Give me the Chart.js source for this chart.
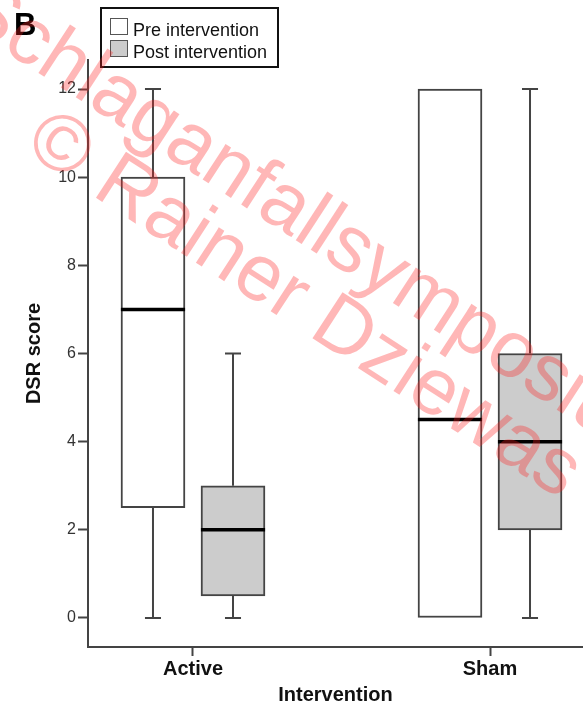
<!DOCTYPE html>
<html>
<head>
<meta charset="utf-8">
<script src="https://cdn.jsdelivr.net/npm/chart.js@4.4.1/dist/chart.umd.min.js"></script>
<style>
  html, body { margin: 0; padding: 0; background: #fff; }
  #wrap { position: relative; width: 583px; height: 704px; overflow: hidden; font-family: "Liberation Sans", Arial, sans-serif; }
  #c { position: absolute; left: 0; top: 0; }
  #panel { position: absolute; left: 14px; top: 9px; font-weight: bold; font-size: 31px; line-height: 1; color: #000; }
  #legend { position: absolute; left: 100px; top: 7px; width: 175px; height: 57px; border: 2px solid #111; background: #fff; }
  .sw { position: absolute; left: 8px; width: 16px; height: 15px; border: 1.5px solid #555; }
  .lt { position: absolute; left: 31px; font-size: 18px; line-height: 1; color: #111; white-space: nowrap; }
  .wm { position: absolute; width: 0; height: 0; transform: rotate(33deg); transform-origin: 0 0; pointer-events: none; }
  .wm span { position: absolute; left: 0; top: -68px; font-size: 80px; line-height: 1; white-space: nowrap; color: rgba(255, 30, 30, 0.32); }
</style>
</head>
<body>
<div id="wrap">
  <canvas id="c" width="583" height="704"></canvas>
  <div id="panel">B</div>
  <div id="legend">
    <div class="sw" id="sw0" style="top:9px;"></div>
    <div class="lt" id="lt0" style="top:12px;"></div>
    <div class="sw" id="sw1" style="top:31px;"></div>
    <div class="lt" id="lt1" style="top:34px;"></div>
  </div>
  <div class="wm" style="left:-45px; top:20px;"><span>Schlaganfallsymposium</span></div>
  <div class="wm" style="left:22px; top:151px;"><span>© Rainer Dziewas</span></div>
</div>
<script>
// ---- data ----
const categories = ['Active', 'Sham'];
const seriesNames = ['Pre intervention', 'Post intervention'];
const preMin    = [0, 0];
const preQ1     = [2.5, 0];
const preMedian = [7, 4.5];
const preQ3     = [10, 12];
const preMax    = [12, 12];
const postMin    = [0, 0];
const postQ1     = [0.5, 2];
const postMedian = [2, 4];
const postQ3     = [3, 6];
const postMax    = [6, 12];
const yTickValues = [0, 2, 4, 6, 8, 10, 12];
const xTitle = 'Intervention';
const yTitle = 'DSR score';

// ---- styling / layout constants ----
const fills = ['#ffffff', '#cccccc'];
const OFFSET = 0.1347;   // box centre offset from category centre (axis units)
const CAP = 0.027;       // half width of whisker caps (axis units)

document.getElementById('lt0').textContent = seriesNames[0];
document.getElementById('lt1').textContent = seriesNames[1];
document.getElementById('sw0').style.background = fills[0];
document.getElementById('sw1').style.background = fills[1];

const series = [
  { min: preMin, q1: preQ1, med: preMedian, q3: preQ3, max: preMax, off: -OFFSET },
  { min: postMin, q1: postQ1, med: postMedian, q3: postQ3, max: postMax, off: OFFSET }
];

const boxSets = series.map((s, k) => ({
  type: 'bar',
  label: seriesNames[k],
  data: categories.map((c, i) => ({ x: i + s.off, y: [s.q1[i], s.q3[i]] })),
  backgroundColor: fills[k],
  borderColor: '#444444',
  borderWidth: 2,
  borderSkipped: false,
  barThickness: 64,
  grouped: false,
  order: 2
}));

const whiskerPts = [];
const medianPts = [];
series.forEach(s => {
  categories.forEach((c, i) => {
    const x = i + s.off;
    if (s.min[i] < s.q1[i]) {
      whiskerPts.push({ x, y: s.min[i] }, { x, y: s.q1[i] }, { x, y: null });
      whiskerPts.push({ x: x - CAP, y: s.min[i] }, { x: x + CAP, y: s.min[i] }, { x, y: null });
    }
    if (s.max[i] > s.q3[i]) {
      whiskerPts.push({ x, y: s.q3[i] }, { x, y: s.max[i] }, { x, y: null });
      whiskerPts.push({ x: x - CAP, y: s.max[i] }, { x: x + CAP, y: s.max[i] }, { x, y: null });
    }
    medianPts.push({ x: x - 0.108, y: s.med[i] }, { x: x + 0.108, y: s.med[i] }, { x, y: null });
  });
});

const lineCommon = { type: 'line', pointRadius: 0, spanGaps: false, fill: false, tension: 0 };

new Chart(document.getElementById('c'), {
  type: 'bar',
  data: {
    datasets: [
      Object.assign({}, lineCommon, { label: 'whiskers', data: whiskerPts, borderColor: '#444444', borderWidth: 2, order: 3 }),
      ...boxSets,
      Object.assign({}, lineCommon, { label: 'median', data: medianPts, borderColor: '#000000', borderWidth: 3.5, order: 1, borderCapStyle: 'butt' })
    ]
  },
  options: {
    responsive: false,
    animation: false,
    devicePixelRatio: 1,
    layout: { padding: { left: 0, right: 0, top: 60, bottom: 0 } },
    plugins: { legend: { display: false }, tooltip: { enabled: false } },
    scales: {
      x: {
        type: 'linear',
        min: -0.3535,
        max: 1.3131,
        offset: false,
        grid: { drawOnChartArea: false, drawTicks: true, tickLength: 9, tickWidth: 2, tickColor: '#444444', offset: false },
        border: { display: true, color: '#444444', width: 2 },
        afterBuildTicks: sc => { sc.ticks = categories.map((c, i) => ({ value: i })); },
        afterFit: sc => { sc.height = 57; },
        ticks: {
          autoSkip: false, maxRotation: 0, padding: 1,
          color: '#111',
          font: { family: '"Liberation Sans", Arial, sans-serif', size: 20, weight: 'bold' },
          callback: v => categories[v]
        },
        title: {
          display: true, text: xTitle, color: '#111',
          font: { family: '"Liberation Sans", Arial, sans-serif', size: 20, weight: 'bold' },
          padding: { top: 0, bottom: -3 }
        }
      },
      y: {
        type: 'linear',
        min: -0.658,
        max: 12.658,
        grid: { drawOnChartArea: false, drawTicks: true, tickLength: 10, tickWidth: 2, tickColor: '#444444' },
        border: { display: true, color: '#444444', width: 2 },
        afterBuildTicks: sc => { sc.ticks = yTickValues.map(v => ({ value: v })); },
        afterFit: sc => { sc.width = 88; },
        ticks: {
          padding: 2, color: '#333',
          font: { family: '"Liberation Sans", Arial, sans-serif', size: 16 }
        },
        title: {
          display: true, text: yTitle, color: '#111',
          font: { family: '"Liberation Sans", Arial, sans-serif', size: 20, weight: 'bold' },
          padding: { top: 22, bottom: 0 }
        }
      }
    }
  }
});
</script>
</body>
</html>
